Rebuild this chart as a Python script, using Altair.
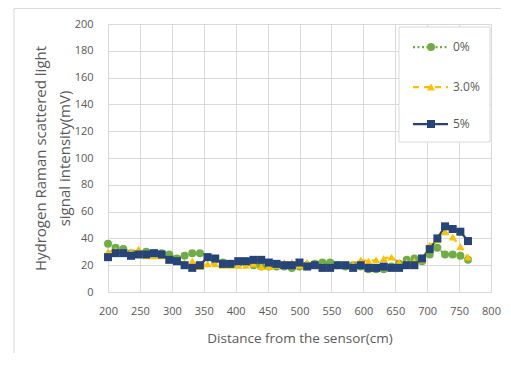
import altair as alt
import pandas as pd

# ---- data ----
distance = [200, 212, 224, 236, 248, 260, 272, 284, 296, 308, 320, 332, 344, 356, 368, 380,
            392, 404, 416, 428, 440, 452, 464, 476, 488, 500, 512, 524, 536, 548, 560, 572,
            584, 596, 608, 620, 632, 644, 656, 668, 680, 692, 704, 716, 728, 740, 752, 764]

h2_0 = [36, 33, 32, 29, 29, 30, 28, 29, 28, 25, 27, 29, 29, 26, 24, 22,
        21, 21, 22, 20, 19, 19, 19, 19, 18, 19, 20, 21, 22, 22, 20, 19,
        20, 19, 17, 17, 17, 19, 21, 24, 25, 23, 28, 33, 28, 28, 27, 24]

h2_3 = [30, 31, 29, 30, 32, 27, 27, 27, 24, 23, 22, 23, 19, 21, 21, 20,
        20, 20, 20, 21, 19, 19, 20, 22, 22, 20, 22, 20, 19, 19, 20, 20,
        21, 24, 23, 24, 25, 26, 22, 22, 23, 24, 35, 39, 45, 41, 34, 26]

h2_5 = [26, 29, 29, 27, 28, 28, 29, 28, 24, 23, 20, 18, 20, 26, 25, 21,
        21, 23, 23, 24, 24, 22, 21, 20, 20, 22, 19, 20, 18, 18, 20, 20,
        18, 20, 18, 18, 19, 18, 18, 20, 20, 25, 32, 40, 49, 47, 45, 38]

series_names = ["0%", "3.0%", "5%"]
series_values = [h2_0, h2_3, h2_5]
colors = ["#70AD47", "#FFC000", "#264478"]
shapes = ["circle", "triangle-up", "square"]
dashes = [[2, 2.5], [6, 5], [1, 0]]

x_ticks = list(range(200, 801, 50))
y_ticks = list(range(0, 201, 20))

rows = []
for name, vals in zip(series_names, series_values):
    for d, v in zip(distance, vals):
        rows.append({"distance": d, "signal": v, "series": name})
df = pd.DataFrame(rows)

FONT = "Open Sans"
GRAY = "#595959"
GRID = "#d9d9d9"

W, H = 383, 268

color_scale = alt.Scale(domain=series_names, range=colors)
shape_scale = alt.Scale(domain=series_names, range=shapes)
dash_scale = alt.Scale(domain=series_names, range=dashes)

x_enc = alt.X("distance:Q",
              scale=alt.Scale(domain=[200, 800], nice=False),
              axis=alt.Axis(values=x_ticks, tickCount=13, title="Distance from the sensor(cm)",
                            grid=True, gridColor=GRID, ticks=False, domainColor=GRID,
                            labelFont=FONT, labelFontSize=11, labelColor=GRAY,
                            labelPadding=13, labelOverlap=False,
                            titleFont=FONT, titleFontSize=13.5,
                            titleFontWeight="normal", titleColor=GRAY, titlePadding=15,
                            labelFlush=False))
y_enc = alt.Y("signal:Q",
              scale=alt.Scale(domain=[0, 200], nice=False),
              axis=alt.Axis(values=y_ticks, tickCount=11,
                            title=["Hydrogen Raman scattered light", "signal intensity(mV)"],
                            grid=True, gridColor=GRID, ticks=False, domain=False,
                            labelFont=FONT, labelFontSize=11, labelColor=GRAY,
                            labelPadding=15, labelOverlap=False,
                            titleFont=FONT, titleFontSize=15,
                            titleFontWeight="normal", titleColor=GRAY,
                            titleX=-75, titleY=H / 2, titleAlign="center",
                            titleBaseline="top", titleLineHeight=24, titleAngle=270))

lines = alt.Chart(df).mark_line(strokeWidth=2.25).encode(
    x=x_enc, y=y_enc,
    color=alt.Color("series:N", scale=color_scale, legend=None),
    strokeDash=alt.StrokeDash("series:N", scale=dash_scale, legend=None),
    detail="series:N",
)

points = alt.Chart(df).mark_point(filled=True, size=64, opacity=1).encode(
    x=x_enc, y=y_enc,
    color=alt.Color("series:N", scale=color_scale, legend=None),
    shape=alt.Shape("series:N", scale=shape_scale, legend=None),
)

# ---- outer frame (decoration) ----
frame_df = pd.DataFrame({"k": [0]})
frame = alt.Chart(frame_df).mark_rect(fill=None, stroke="#d9d9d9", strokeWidth=1).encode(
    x=alt.value(-94), x2=alt.value(600), y=alt.value(-15.5), y2=alt.value(500)
)

# ---- manual legend ----
legend_box = alt.Chart(frame_df).mark_rect(fill="white", stroke="#d9d9d9", strokeWidth=1).encode(
    x=alt.value(291), x2=alt.value(382), y=alt.value(3), y2=alt.value(118)
)
legend_rows = [23, 63, 100]
legend_layers = [legend_box]
for name, col, shp, dsh, ly in zip(series_names, colors, shapes, dashes, legend_rows):
    ldf = pd.DataFrame({"series": [name]})
    legend_layers.append(
        alt.Chart(ldf).mark_rule(color=col, strokeWidth=2.25, strokeDash=dsh).encode(
            x=alt.value(305), x2=alt.value(340), y=alt.value(ly)))
    legend_layers.append(
        alt.Chart(ldf).mark_point(filled=True, size=64, opacity=1, color=col, shape=shp).encode(
            x=alt.value(323), y=alt.value(ly)))
    legend_layers.append(
        alt.Chart(ldf).mark_text(align="left", baseline="middle", font=FONT, fontSize=12,
                                 color=GRAY).encode(
            x=alt.value(345), y=alt.value(ly), text="series:N"))

chart = alt.layer(lines, points, frame, *legend_layers).properties(
    width=W, height=H,
    autosize=alt.AutoSizeParams(type="none"),
    padding={"left": 100, "top": 16, "right": 10, "bottom": 61},
).configure_view(stroke=None)

chart.save("out.html", embed_options={"renderer": "svg", "actions": False})
